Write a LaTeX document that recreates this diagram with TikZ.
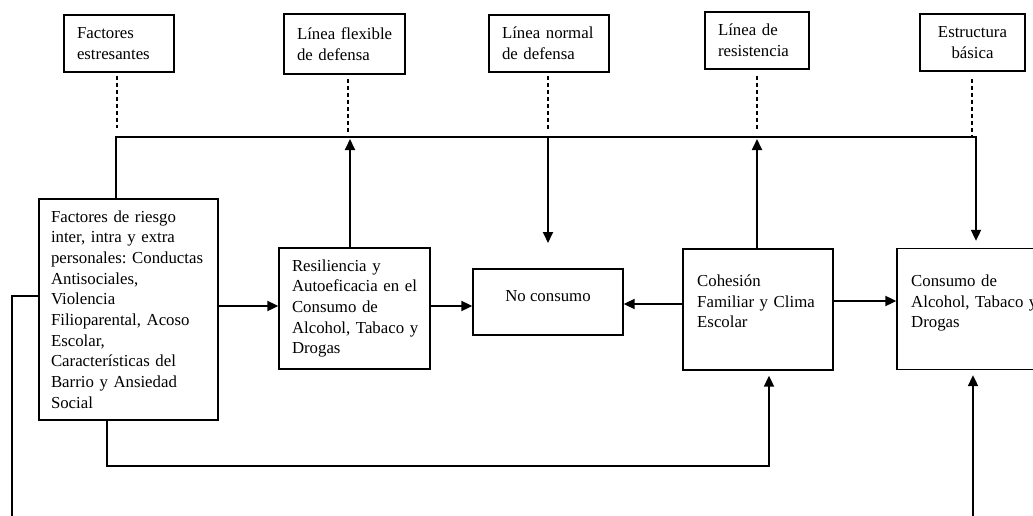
\documentclass[tikz,border=0pt]{standalone}
\usepackage{fontspec}
\setmainfont{Liberation Serif}
\usetikzlibrary{arrows.meta}
\begin{document}
\begin{tikzpicture}[x=1pt,y=-1pt,
  box/.style={draw, line width=1.3pt, align=left, inner xsep=13pt, inner ysep=0pt,
              font=\fontsize{16.8}{20.7}\selectfont,
              execute at begin node={\frenchspacing\hyphenpenalty=10000\exhyphenpenalty=10000}},
  txt/.style={align=left, inner sep=0pt, font=\fontsize{16.8}{20.7}\selectfont,
              execute at begin node={\frenchspacing\hyphenpenalty=10000\exhyphenpenalty=10000}},
  conn/.style={line width=1.8pt},
  arr/.style={conn, -{Triangle[length=11pt,width=10pt]}},
  dsh/.style={line width=1.3pt, dash pattern=on 4pt off 3pt}]
\useasboundingbox (0,0) rectangle (1033,516);

% top boxes
\node[box, minimum width=110pt, minimum height=57pt, text width=84pt] (fe) at (119,43.5)
  {Factores\\estresantes};
\node[box, minimum width=121pt, minimum height=60pt, text width=95pt] (lf) at (344.5,44)
  {\mbox{Línea flexible}\\de~defensa};
\node[box, minimum width=120pt, minimum height=57pt, text width=94pt] (ln) at (549,43.5)
  {\mbox{Línea normal}\\de~defensa};
\node[box, minimum width=104pt, minimum height=57pt, text width=78pt] (lr) at (757,40.5)
  {Línea de\\resistencia};
\node[box, align=center, minimum width=105pt, minimum height=57pt, text width=79pt] (eb) at (972.5,42.5)
  {Estructura\\básica};

% main boxes
\node[box, inner xsep=12pt, minimum width=179pt, minimum height=221pt, text width=155pt] (fr) at (128.5,309.5)
  {Factores~de~riesgo\\inter,~intra~y~extra\\\mbox{personales: Conductas}\\Antisociales,\\Violencia\\Filioparental,~Acoso\\Escolar,\\Características~del\\Barrio~y~Ansiedad\\Social};
\node[box, minimum width=151pt, minimum height=121pt, text width=125pt] (res) at (354.5,308.5)
  {Resiliencia~y\\\mbox{Autoeficacia en el}\\Consumo~de\\\mbox{Alcohol, Tabaco y}\\Drogas};
\node[box, minimum width=150pt, minimum height=66pt] (nc) at (548,302) {};
\node[txt, anchor=base] (ncT) at (548,301) {No consumo};
\node[box, minimum width=150pt, minimum height=121pt] (coh) at (758,309.5) {};
\node[txt, anchor=north west, text width=125pt] (cohT) at (697,274.5)
  {Cohesión\\Familiar~y~Clima\\Escolar};
\node[box, minimum width=150pt, minimum height=121pt] (con) at (972,309) {};
\node[txt, anchor=north west, text width=130pt] (conT) at (911,274.5)
  {Consumo~de\\\mbox{Alcohol, Tabaco y}\\Drogas};

% coordinates
\coordinate (bl) at (116,137);
\coordinate (br) at (976,137);
\coordinate (bres) at (350,137);
\coordinate (bnc) at (548,137);
\coordinate (bcoh) at (757,137);
\coordinate (tipnc) at (548,243);
\coordinate (r1) at (0,306);
\coordinate (r2) at (0,304);
\coordinate (r3) at (0,301);
\coordinate (lowL) at (107,466);
\coordinate (lowR) at (769,466);
\coordinate (farL) at (12,296);
\coordinate (farLb) at (12,522);
\coordinate (farR) at (973,522);

% dashed ties
\coordinate (dfe1) at (117,75);  \coordinate (dfe2) at (117,128);
\coordinate (dlf1) at (348,78);  \coordinate (dlf2) at (348,134);
\coordinate (dln1) at (548,75);  \coordinate (dln2) at (548,130);
\coordinate (dlr1) at (757,75);  \coordinate (dlr2) at (757,131);
\coordinate (deb1) at (972,78);  \coordinate (deb2) at (972,135);
\draw[dsh] (fe.south -| dfe1) ++(0,-3pt) -- (dfe2);
\draw[dsh] (lf.south -| dlf1) ++(0,-4pt) -- (dlf2);
\draw[dsh] (ln.south -| dln1) ++(0,-3pt) -- (dln2);
\draw[dsh] (lr.south -| dlr1) ++(0,-6pt) -- (dlr2);
\draw[dsh] (eb.south -| deb1) ++(0,-7pt) -- (deb2);

% connectors
\draw[arr] (fr.north -| bl) -- (bl) -- (br) -- ([yshift=7pt]con.north -| br);
\draw[arr] (res.north -| bres) -- ([yshift=-2pt]bres);
\draw[arr] (bnc) -- (tipnc);
\draw[arr] (coh.north -| bcoh) -- ([yshift=-2pt]bcoh);
\draw[arr] (fr.east |- r1) -- (res.west |- r1);
\draw[arr] (res.east |- r1) -- (nc.west |- r1);
\draw[arr] (coh.west |- r2) -- (nc.east |- r2);
\draw[arr] (coh.east |- r3) -- (con.west |- r3);
\draw[arr] (fr.south -| lowL) -- (lowL) -- (lowR) -- ([yshift=-5pt]coh.south -| lowR);
\draw[conn] (fr.west |- farL) -- (farL) -- (farLb);
\draw[arr] (farR) -- ([yshift=-5pt]con.south -| farR);
\end{tikzpicture}
\end{document}
